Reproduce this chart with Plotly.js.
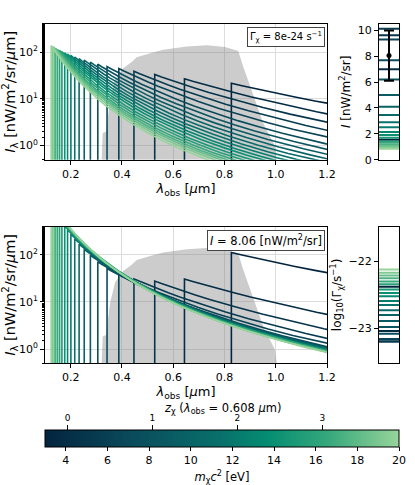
<!DOCTYPE html>
<html><head><meta charset="utf-8">
<script src="https://cdn.plot.ly/plotly-3.0.1.min.js"></script>
<style>html,body{margin:0;padding:0;background:#fff}#plot{width:415px;height:485px}</style>
</head><body><div id="plot"></div>
<script>
// ---- data ----
const mass = [3, 3.85, 4.7, 5.55, 6.4, 7.25, 8.1, 8.95, 9.8, 10.65, 11.5, 12.35, 13.2, 14.05, 14.9, 15.75, 16.6, 17.45, 18.3, 19.15, 20];
const edgeLambda = [0.827, 0.644, 0.528, 0.447, 0.388, 0.342, 0.306, 0.277, 0.253, 0.233, 0.216, 0.201, 0.188, 0.177, 0.166, 0.157, 0.149, 0.142, 0.136, 0.130, 0.124];
const peakTop = [21.6, 26.8, 33.2, 39, 44.5, 49, 55, 61, 67, 72.5, 78.5, 85, 91, 97, 103, 109, 114, 120, 126, 132, 138];
const peakBottom = [112, 30.8, 27.8, 31.0, 38.6, 51.3, 71.5, 98.3, 131.7, 169, 218, 274, 341, 411, 488, 628, 707, 841, 968, 1119, 1308];
const intensityTop = [1.55, 7.0, 9.62, 10.13, 9.3, 7.7, 6.2, 5.0, 4.1, 3.45, 2.9, 2.5, 2.15, 1.9, 1.7, 1.4, 1.3, 1.15, 1.05, 0.95, 0.85];
const logGamma = [-22.38, -23.04, -23.17, -23.2, -23.16, -23.08, -22.98, -22.89, -22.8, -22.73, -22.65, -22.59, -22.52, -22.47, -22.42, -22.34, -22.3, -22.25, -22.21, -22.17, -22.12];
// common spectral shape (relative to the edge value) vs lambda/lambda_edge
const profileU = [1, 1.05, 1.1, 1.2, 1.3, 1.4, 1.5, 1.6, 1.8, 2.0, 2.25, 2.5, 2.75, 3, 3.5, 4, 4.5, 5, 6, 7, 8, 9, 10];
const profileShape = [1, 0.886, 0.788, 0.629, 0.508, 0.413, 0.340, 0.281, 0.197, 0.142, 0.0974, 0.0689, 0.0502, 0.0375, 0.0222, 0.0140, 0.00933, 0.00647, 0.00343, 0.00201, 0.00126, 0.00083, 0.00058];
// filter transmission (grey band)
const filterLambda = [0.321, 0.325, 0.338, 0.354, 0.373, 0.405, 0.438, 0.458, 0.510, 0.561, 0.653, 0.731, 0.802, 0.834, 0.854, 0.873, 0.900, 0.926, 0.951, 0.971, 0.984, 0.997, 1.004];
const filterTrans  = [0.0, 0.196, 0.206, 0.44, 0.59, 0.674, 0.72, 0.755, 0.785, 0.81, 0.833, 0.843, 0.83, 0.81, 0.80, 0.686, 0.54, 0.39, 0.27, 0.196, 0.147, 0.098, 0.0];
const measuredI = [8.06], measuredIplus = [1.94], measuredIminus = [1.96];
const zTickMass = [4.08, 8.16, 12.24, 16.32];
const zTickText = ['0', '1', '2', '3'];
const massTickVals = [4, 6, 8, 10, 12, 14, 16, 18, 20];
const logTickVals = [1, 10, 100];
const logTickText = ['10<sup>0</sup>', '10<sup>1</sup>', '10<sup>2</sup>'];
const ZERO = 1e-3;

// ---- colormap ----
const cstops = [[0, [3, 36, 63]], [0.25, [10, 75, 92]], [0.5, [8, 113, 107]], [0.63, [5, 141, 114]], [0.8, [54, 168, 124]], [1, [151, 212, 154]]];
function cmap(t) {
  for (let i = 1; i < cstops.length; i++) {
    if (t <= cstops[i][0]) {
      const a = cstops[i - 1], b = cstops[i];
      const f = (t - a[0]) / (b[0] - a[0]);
      const c = a[1].map((v, k) => Math.round(v + f * (b[1][k] - v)));
      return `rgb(${c[0]},${c[1]},${c[2]})`;
    }
  }
  const c = cstops[cstops.length - 1][1];
  return `rgb(${c[0]},${c[1]},${c[2]})`;
}
const mMin = 3, mMax = 20;
const colorOf = m => cmap((m - mMin) / (mMax - mMin));
const colorscale = cstops.map(s => [s[0], `rgb(${s[1].join(',')})`]);

function curve(lr, peak) {
  const xs = [lr], ys = [ZERO];
  for (let j = 0; j < profileU.length; j++) {
    const x = lr * profileU[j];
    xs.push(x); ys.push(peak * profileShape[j]);
    if (x > 1.2) break;
  }
  return {xs, ys};
}

const F = 'DejaVu Sans, sans-serif';
const traces = [];
// grey filter bands
traces.push({x: filterLambda, y: filterTrans, xaxis: 'x', yaxis: 'y', type: 'scatter', mode: 'lines', fill: 'tozeroy', fillcolor: 'rgba(128,128,128,0.4)', line: {width: 0}, hoverinfo: 'skip'});
traces.push({x: filterLambda, y: filterTrans, xaxis: 'x2', yaxis: 'y3', type: 'scatter', mode: 'lines', fill: 'tozeroy', fillcolor: 'rgba(128,128,128,0.4)', line: {width: 0}, hoverinfo: 'skip'});

for (let i = 0; i < mass.length; i++) {
  const col = colorOf(mass[i]);
  const a = curve(edgeLambda[i], peakTop[i]);
  traces.push({x: a.xs, y: a.ys, xaxis: 'x', yaxis: 'y2', type: 'scatter', mode: 'lines', line: {color: col, width: 1.6}});
  const b = curve(edgeLambda[i], peakBottom[i]);
  traces.push({x: b.xs, y: b.ys, xaxis: 'x2', yaxis: 'y4', type: 'scatter', mode: 'lines', line: {color: col, width: 1.6}});
  traces.push({x: [0, 1], y: [intensityTop[i], intensityTop[i]], xaxis: 'x3', yaxis: 'y5', type: 'scatter', mode: 'lines', line: {color: col, width: 2}});
  traces.push({x: [0, 1], y: [logGamma[i], logGamma[i]], xaxis: 'x4', yaxis: 'y6', type: 'scatter', mode: 'lines', line: {color: col, width: 2}});
}
// measured intensity with error bar
traces.push({x: [0.5], y: measuredI, xaxis: 'x3', yaxis: 'y5', type: 'scatter', mode: 'markers',
  marker: {color: 'black', size: 5},
  error_y: {type: 'data', symmetric: false, array: measuredIplus, arrayminus: measuredIminus, color: 'black', thickness: 2, width: 5}});
// colorbar carrier
traces.push({x: mass, y: mass.map(() => 0), xaxis: 'x5', yaxis: 'y7', type: 'scatter', mode: 'markers', hoverinfo: 'skip',
  marker: {color: mass, cmin: mMin, cmax: mMax, colorscale: colorscale, opacity: 0, size: 1, showscale: true,
    colorbar: {orientation: 'h', x: 45 / 415, xanchor: 'left', xref: 'paper', len: 354 / 415, lenmode: 'fraction',
      y: (485 - 430) / 485, yanchor: 'top', yref: 'paper', thickness: 17, thicknessmode: 'pixels', xpad: 0, ypad: 0,
      outlinewidth: 1, outlinecolor: 'black', ticks: 'outside', ticklen: 4, tickcolor: 'black', tickvals: massTickVals,
      tickfont: {family: F, size: 11, color: 'black'},
      title: {text: '<i>m</i><sub>χ</sub><i>c</i><sup>2</sup> [eV]', side: 'bottom', font: {family: F, size: 11.5, color: 'black'}}}}});

const frame = {showline: true, mirror: true, linecolor: 'black', linewidth: 1, zeroline: false};
const gridc = '#dcdcdc';
const xMain = {range: [0.1, 1.2], tick0: 0, dtick: 0.2, ticks: 'outside', ticklen: 4, tickcolor: 'black', showgrid: true, gridcolor: gridc,
  tickfont: {family: F, size: 11, color: 'black'}, tickformat: '.1f',
  title: {text: '<i>λ</i><sub>obs</sub> [<i>μ</i>m]', font: {family: F, size: 13, color: 'black'}, standoff: 2}, ...frame};
const yLog = {type: 'log', range: [Math.log10(0.5), Math.log10(400)], tickvals: logTickVals, ticktext: logTickText, ticks: 'outside', ticklen: 4,
  tickcolor: 'black', showgrid: true, gridcolor: gridc, tickfont: {family: F, size: 11, color: 'black'},
  minor: {ticks: 'outside', ticklen: 2, tickcolor: 'black', showgrid: false},
  title: {text: '<i>I</i><sub>λ</sub> [nW/m<sup>2</sup>/sr/<i>μ</i>m]', font: {family: F, size: 14.5, color: 'black'}, standoff: 2}, ...frame};
const yLin = {range: [0, 1], visible: false, showgrid: false, fixedrange: true};

const topY = [(485 - 160) / 485, (485 - 24) / 485];
const botY = [(485 - 364) / 485, (485 - 227) / 485];
const mainX = [45 / 415, 327 / 415];
const sideX = [379 / 415, 399 / 415];

const layout = {
  width: 415, height: 485, margin: {l: 0, r: 0, t: 0, b: 0}, showlegend: false,
  paper_bgcolor: 'white', plot_bgcolor: 'rgba(0,0,0,0)', font: {family: F, color: 'black'},
  xaxis: {...xMain, domain: mainX, anchor: 'y'},
  yaxis: {...yLin, domain: topY, anchor: 'x'},
  yaxis2: {...yLog, domain: topY, anchor: 'x', overlaying: 'y', side: 'left'},
  xaxis2: {...xMain, domain: mainX, anchor: 'y3'},
  yaxis3: {...yLin, domain: botY, anchor: 'x2'},
  yaxis4: {...yLog, domain: botY, anchor: 'x2', overlaying: 'y3', side: 'left'},
  xaxis3: {domain: sideX, anchor: 'y5', range: [0, 1], showticklabels: false, ticks: '', showgrid: false, ...frame},
  yaxis5: {domain: topY, anchor: 'x3', range: [0, 10.5], tickvals: [0, 2, 4, 6, 8, 10], ticks: 'outside', ticklen: 4, tickcolor: 'black', showgrid: false,
    tickfont: {family: F, size: 11, color: 'black'},
    title: {text: '<i>I</i> [nW/m<sup>2</sup>/sr]', font: {family: F, size: 12, color: 'black'}, standoff: 4}, ...frame},
  xaxis4: {domain: sideX, anchor: 'y6', range: [0, 1], showticklabels: false, ticks: '', showgrid: false, ...frame},
  yaxis6: {domain: botY, anchor: 'x4', range: [-23.52, -21.48], tickvals: [-23, -22], ticktext: ['−23', '−22'], ticks: 'outside', ticklen: 4, tickcolor: 'black', showgrid: false,
    tickfont: {family: F, size: 11, color: 'black'},
    title: {text: 'log<sub>10</sub>(Γ<sub>χ</sub>/s<sup>−1</sup>)', font: {family: F, size: 12, color: 'black'}, standoff: 4}, ...frame},
  xaxis5: {domain: [45 / 415, 399 / 415], anchor: 'free', position: (485 - 443) / 485, side: 'top', range: [mMin, mMax],
    tickvals: zTickMass, ticktext: zTickText, ticks: 'outside', ticklen: 17, tickcolor: 'black', showgrid: false, showline: false, zeroline: false,
    tickfont: {family: F, size: 9, color: 'black'}},
  yaxis7: {domain: [(485 - 447) / 485, (485 - 443) / 485], anchor: 'x5', range: [1, 2], visible: false},
  annotations: [
    {xref: 'paper', yref: 'paper', x: 325 / 415, y: (485 - 27) / 485, xanchor: 'right', yanchor: 'top', showarrow: false,
     text: 'Γ<sub>χ</sub> = 8e-24 s<sup>−1</sup>', font: {family: F, size: 10, color: 'black'}, bordercolor: '#444', borderwidth: 1, borderpad: 2, bgcolor: 'white'},
    {xref: 'paper', yref: 'paper', x: 325 / 415, y: (485 - 230) / 485, xanchor: 'right', yanchor: 'top', showarrow: false,
     text: '<i>I</i> = 8.06 [nW/m<sup>2</sup>/sr]', font: {family: F, size: 11.5, color: 'black'}, bordercolor: '#444', borderwidth: 1, borderpad: 2, bgcolor: 'white'},
    {xref: 'paper', yref: 'paper', x: 222 / 415, y: (485 - 409) / 485, xanchor: 'center', yanchor: 'middle', showarrow: false,
     text: '<i>z</i><sub>χ</sub> (<i>λ</i><sub>obs</sub> = 0.608 <i>μ</i>m)', font: {family: F, size: 11.5, color: 'black'}}
  ]
};
Plotly.newPlot('plot', traces, layout, {staticPlot: true, displayModeBar: false});
</script></body></html>
